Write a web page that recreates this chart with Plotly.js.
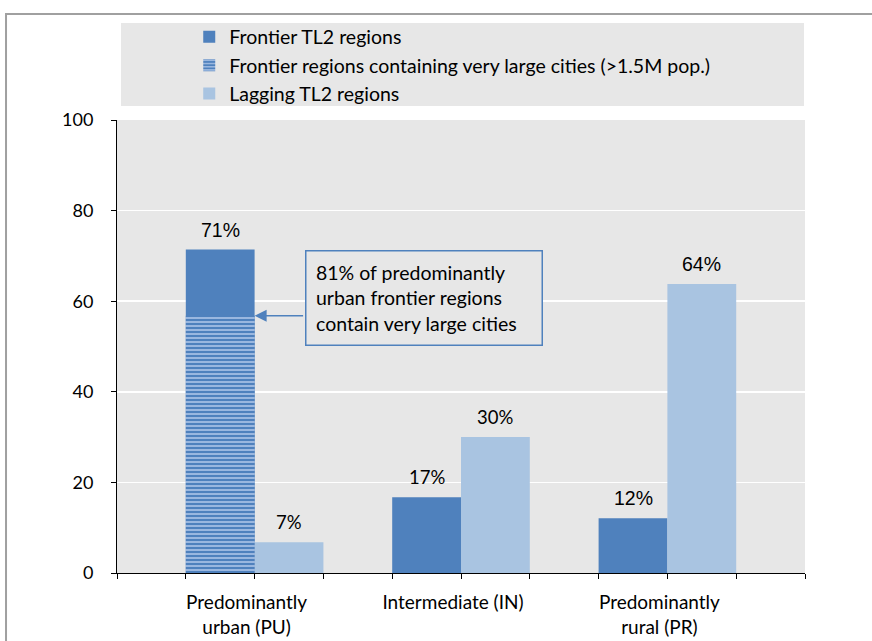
<!DOCTYPE html>
<html>
<head>
<meta charset="utf-8">
<script src="https://cdn.plot.ly/plotly-3.0.1.min.js"></script>
<style>html,body{margin:0;padding:0;background:#fff;}#chart{width:872px;height:641px;}</style>
</head>
<body>
<div id="chart"></div>
<script>
// ---- data ----
const categories = ['Predominantly<br>urban (PU)', 'Intermediate (IN)', 'Predominantly<br>rural (PR)'];
const frontierValues = [71.4, 16.7, 12.1];
const frontierLabels = ['71%', '17%', '12%'];
const laggingValues = [6.8, 30.0, 63.8];
const laggingLabels = ['7%', '30%', '64%'];
const largeCityCategories = ['Predominantly<br>urban (PU)'];
const largeCityValues = [56.8];
const seriesNames = ['Frontier TL2 regions', 'Frontier regions containing very large cities (>1.5M pop.)', 'Lagging TL2 regions'];
const calloutText = '81% of predominantly<br>urban frontier regions<br>contain very large cities';
const yTicks = [0, 20, 40, 60, 80, 100];

// ---- style ----
const C_FRONT = '#4f81bd', C_LAG = '#a9c4e1', C_BG = '#e7e7e7';
const FONT = 'Lato, sans-serif';
const ARIAL = '"Liberation Sans", Arial, sans-serif';
const arialLabels = {'71%': 1, '12%': 1, '64%': 1};

const traces = [
  {type: 'bar', x: categories, y: frontierValues, name: seriesNames[0], offsetgroup: 'f',
   marker: {color: C_FRONT, line: {width: 0}}, legendrank: 1, legendgroup: 'a', hoverinfo: 'skip'},
  {type: 'bar', x: categories, y: laggingValues, name: seriesNames[2], offsetgroup: 'l',
   marker: {color: C_LAG, line: {width: 0}}, legendrank: 3, legendgroup: 'c', hoverinfo: 'skip'},
  {type: 'bar', x: largeCityCategories, y: largeCityValues, name: seriesNames[1], offsetgroup: 'f',
   marker: {color: C_FRONT, line: {width: 0},
            pattern: {shape: '-', fgcolor: '#a3bde3', bgcolor: C_FRONT, size: 4, solidity: 0.45}},
   legendrank: 2, legendgroup: 'b', hoverinfo: 'skip'},
  {type: 'scatter', x: [], y: [], xaxis: 'x2', showlegend: false, hoverinfo: 'skip'}
];

const BARPX = 34.4;
const annotations = [];
function addLabels(vals, labels, shift) {
  vals.forEach((v, i) => {
    const isArial = arialLabels[labels[i]];
    annotations.push({x: i, y: v, xref: 'x', yref: 'y', text: labels[i], showarrow: false,
      xshift: shift, yanchor: 'bottom', yshift: 7,
      font: isArial ? {family: ARIAL, size: 19.5, color: '#000'} : {family: FONT, size: 18.5, color: '#000'}});
  });
}
addLabels(frontierValues, frontierLabels, -BARPX);
addLabels(laggingValues, laggingLabels, BARPX);

// callout box
annotations.push({xref: 'paper', yref: 'paper', x: 0.273, y: 0.713, xanchor: 'left', yanchor: 'top',
  text: calloutText, align: 'left', showarrow: false, width: 216, height: 74,
  bgcolor: C_BG, bordercolor: C_FRONT, borderwidth: 1.5, borderpad: 9.5,
  font: {family: FONT, size: 19.5, color: '#000'}});
// arrow from callout to the large-city bar
annotations.push({x: 0, y: largeCityValues[0], xref: 'x', yref: 'y', text: '', showarrow: true,
  ax: 50, ay: 0, axref: 'pixel', ayref: 'pixel', arrowhead: 2, arrowsize: 1.5, arrowwidth: 1.6,
  arrowcolor: C_FRONT, standoff: 0, startstandoff: 0});

const xTickVals = [];
for (let k = -2; k <= 8; k++) xTickVals.push(k / 3);

const layout = {
  width: 872, height: 641,
  margin: {l: 117, r: 67, t: 120, b: 68},
  paper_bgcolor: '#ffffff', plot_bgcolor: C_BG,
  barmode: 'group', bargap: 1 / 3, bargroupgap: 0,
  showlegend: true,
  legend: {x: 0.105, y: 1.226, xanchor: 'left', yanchor: 'top', bgcolor: 'rgba(0,0,0,0)',
           font: {family: FONT, size: 19.5, color: '#000'}, traceorder: 'grouped', tracegroupgap: 0,
           itemclick: false},
  xaxis: {type: 'category', range: [-2 / 3, 8 / 3], showline: true, linecolor: '#000', linewidth: 1,
          ticks: '', showgrid: false, zeroline: false, fixedrange: true,
          tickfont: {family: FONT, size: 19, color: '#000'}, ticklabelshift: -8, ticklabelstandoff: 12},
  xaxis2: {overlaying: 'x', anchor: 'y', side: 'bottom', type: 'linear', range: [-2 / 3, 8 / 3],
           tickmode: 'array', tickvals: xTickVals, showticklabels: false, ticks: 'outside', ticklen: 5,
           tickcolor: '#000', tickwidth: 1, showgrid: false, zeroline: false, showline: false, fixedrange: true},
  yaxis: {range: [0, 100], tickmode: 'array', tickvals: yTicks, showline: true, linecolor: '#000', linewidth: 1,
          ticks: 'outside', ticklen: 5, tickcolor: '#000', showgrid: true, gridcolor: '#ffffff', gridwidth: 1.5,
          zeroline: false, fixedrange: true, ticklabelstandoff: 14,
          tickfont: {family: FONT, size: 18, color: '#000'}},
  shapes: [
    // legend panel
    {type: 'rect', xref: 'paper', yref: 'paper', x0: 0.0058, x1: 0.9985, y0: 1.031, y1: 1.214,
     fillcolor: C_BG, line: {width: 0}, layer: 'below'},
    // outer frame
    {type: 'rect', xref: 'paper', yref: 'paper', x0: -0.1613, x1: 1.2, y0: -0.3, y1: 1.234,
     fillcolor: 'rgba(0,0,0,0)', line: {color: '#a0a0a0', width: 2}, layer: 'below'}
  ],
  annotations: annotations
};

Plotly.newPlot('chart', traces, layout, {displayModeBar: false, staticPlot: true});
</script>
</body>
</html>
